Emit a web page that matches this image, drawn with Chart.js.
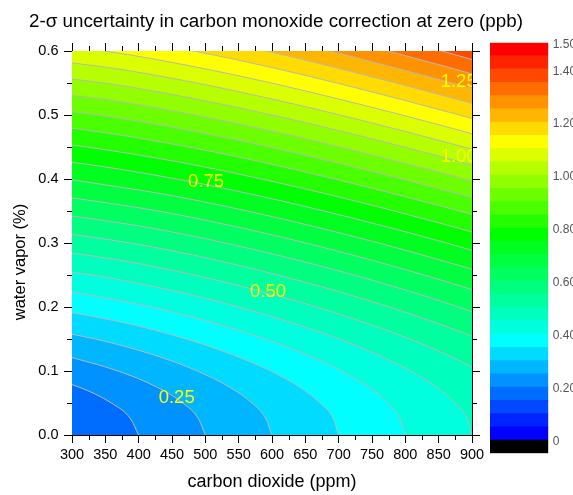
<!DOCTYPE html>
<html>
<head>
<meta charset="utf-8">
<script src="https://cdn.jsdelivr.net/npm/chart.js@4.4.1/dist/chart.umd.min.js"></script>
<style>
  body { margin: 0; background: #fff; }
  #wrap { position: relative; width: 573px; height: 495px; overflow: hidden; }
  #main { position: absolute; left: 0; top: 0; }
  #bar { position: absolute; left: 480px; top: 0; }
  #title { position: absolute; left: 29px; top: 10px; font: 18.8px "Liberation Sans", Arial, sans-serif; white-space: nowrap; color: #000; }
</style>
</head>
<body>
<div id="wrap">
  <canvas id="main" width="573" height="495"></canvas>
  <canvas id="bar" width="93" height="495"></canvas>
  <div id="title">2-σ uncertainty in carbon monoxide correction at zero (ppb)</div>
</div>
<script>
// contour levels (ppb) and the line of each level as [CO2 ppm, water vapour %]
const levels = [0.20, 0.25, 0.30, 0.35, 0.40, 0.45, 0.50, 0.55, 0.60, 0.65, 0.70, 0.75,
                0.80, 0.85, 0.90, 0.95, 1.00, 1.05, 1.10, 1.15, 1.20, 1.25, 1.30, 1.35];

const c020 = [[231,0.1],[310,0.075],[359,0.05],[388,0.025],[400,0],[960,0]];
const c025 = [[286,0.125],[369,0.1],[427,0.075],[466,0.05],[490,0.025],[500,0],[960,0]];
const c030 = [[202,0.175],[335,0.15],[423,0.125],[488,0.1],[536,0.075],[570,0.05],[591,0.025],[600,0],[960,0]];
const c035 = [[252,0.2],[380,0.175],[471,0.15],[542,0.125],[598,0.1],[641,0.075],[672,0.05],[692,0.025],[700,0],[960,0]];
const c040 = [[294,0.225],[419,0.2],[513,0.175],[590,0.15],[653,0.125],[704,0.1],[745,0.075],[774,0.05],[792,0.025],[800,0],[960,0]];
const c045 = [[120,0.275],[330,0.25],[454,0.225],[550,0.2],[631,0.175],[701,0.15],[759,0.125],[808,0.1],[847,0.075],[875,0.05],[893,0.025],[900,0],[960,0]];
const c050 = [[176,0.3],[361,0.275],[483,0.25],[582,0.225],[667,0.2],[741,0.175],[807,0.15],[863,0.125],[910,0.1],[976,0.05]];
const c055 = [[216,0.325],[388,0.3],[509,0.275],[609,0.25],[697,0.225],[776,0.2],[847,0.175],[910,0.15],[1011,0.1]];
const c060 = [[247,0.35],[410,0.325],[530,0.3],[632,0.275],[723,0.25],[805,0.225],[880,0.2],[1010,0.15]];
const c065 = [[272,0.375],[429,0.35],[548,0.325],[651,0.3],[743,0.275],[828,0.25],[907,0.225],[981,0.2]];
const c070 = [[292,0.4],[445,0.375],[563,0.35],[666,0.325],[760,0.3],[847,0.275],[929,0.25],[1079,0.2]];
const c075 = [[175,0.44],[309,0.425],[457,0.4],[575,0.375],[678,0.35],[773,0.325],[862,0.3],[1026,0.25]];
const c080 = [[245,0.46],[322,0.45],[468,0.425],[584,0.4],[688,0.375],[783,0.35],[873,0.325],[959,0.3]];
const c085 = [[211,0.49],[332,0.475],[475,0.45],[591,0.425],[694,0.4],[790,0.375],[881,0.35],[1052,0.3]];
const c090 = [[168,0.52],[340,0.5],[481,0.475],[596,0.45],[699,0.425],[795,0.4],[886,0.375],[974,0.35]];
const c095 = [[104,0.55],[345,0.525],[484,0.5],[599,0.475],[702,0.45],[797,0.425],[889,0.4],[1063,0.35]];
const c100 = [[116,0.575],[348,0.55],[486,0.525],[600,0.5],[703,0.475],[798,0.45],[889,0.425],[978,0.4]];
const c105 = [[121,0.6],[349,0.575],[487,0.55],[600,0.525],[702,0.5],[797,0.475],[888,0.45],[1063,0.4]];
const c110 = [[122,0.625],[349,0.6],[486,0.575],[599,0.55],[700,0.525],[795,0.5],[885,0.475],[974,0.45]];
const c115 = [[346,0.625],[483,0.6],[596,0.575],[697,0.55],[791,0.525],[881,0.5],[1056,0.45]];
const c120 = [[479,0.625],[592,0.6],[692,0.575],[786,0.55],[876,0.525],[963,0.5]];
const c125 = [[587,0.625],[687,0.6],[780,0.575],[870,0.55],[957,0.525]];
const c130 = [[681,0.625],[774,0.6],[863,0.575],[949,0.55]];
const c135 = [[766,0.625],[855,0.6],[940,0.575]];

const contours = [c020, c025, c030, c035, c040, c045, c050, c055, c060, c065, c070, c075,
                  c080, c085, c090, c095, c100, c105, c110, c115, c120, c125, c130, c135];

// in-plot labels
const labelText = ['0.25', '0.50', '0.75', '1.00', '1.25'];
const labelCo2 = [457, 594, 501, 880, 880];
const labelH2o = [0.058, 0.224, 0.396, 0.435, 0.552];

// colour scale: one band every 0.05 from 0 to 1.5, black under 0
const bandStep = 0.05;
const barTicks = [0, 0.2, 0.4, 0.6, 0.8, 1.0, 1.2, 1.4, 1.5];
const palette = [
  '#0000ff', '#0024ff', '#0049ff', '#006dff', '#0092ff', '#00b6ff', '#00dbff', '#00ffff',
  '#00ffdf', '#00ffbf', '#00ff9f', '#00ff80', '#00ff60', '#00ff40', '#00ff20', '#00ff00',
  '#24ff00', '#49ff00', '#6dff00', '#92ff00', '#b6ff00', '#dbff00', '#ffff00',
  '#ffdb00', '#ffb600', '#ff9200', '#ff6d00', '#ff4900', '#ff2400', '#ff0000'
];
const underColor = '#000000';

const FONT = '"Liberation Sans", Arial, sans-serif';
Chart.defaults.font.family = FONT;
Chart.defaults.color = '#000';

// lowest band fills the plot before the contour fills go on top
const baseFill = {
  id: 'baseFill',
  beforeDatasetsDraw(chart) {
    const a = chart.chartArea;
    const ctx = chart.ctx;
    ctx.save();
    ctx.fillStyle = palette[Math.round(levels[0] / bandStep) - 1];
    ctx.fillRect(a.left, a.top, a.right - a.left, a.bottom - a.top);
    ctx.restore();
  }
};

const contourLabels = {
  id: 'contourLabels',
  afterDatasetsDraw(chart) {
    const {ctx, chartArea: a, scales} = chart;
    ctx.save();
    ctx.beginPath();
    ctx.rect(a.left, a.top, a.right - a.left, a.bottom - a.top);
    ctx.clip();
    ctx.fillStyle = '#ffff00';
    ctx.font = '18.5px ' + FONT;
    ctx.textAlign = 'center';
    ctx.textBaseline = 'middle';
    labelText.forEach((t, i) => {
      ctx.fillText(t, scales.x.getPixelForValue(labelCo2[i]), scales.y.getPixelForValue(labelH2o[i]));
    });
    ctx.restore();
  }
};

// y axis title sits a little below the middle of the axis
const yTitle = {
  id: 'yTitle',
  afterDraw(chart) {
    const {ctx, chartArea: a} = chart;
    ctx.save();
    ctx.translate(20, (a.top + a.bottom) / 2 + 19);
    ctx.rotate(-Math.PI / 2);
    ctx.fillStyle = '#000';
    ctx.font = '16.5px ' + FONT;
    ctx.textAlign = 'center';
    ctx.textBaseline = 'middle';
    ctx.fillText('water vapor (%)', 0, 0);
    ctx.restore();
  }
};

// short ticks between the labelled ones, on all four sides
const minorTicks = {
  id: 'minorTicks',
  afterDraw(chart) {
    const {ctx, chartArea: a, scales: {x, y}} = chart;
    ctx.save();
    ctx.strokeStyle = '#000';
    ctx.lineWidth = 1;
    ctx.beginPath();
    for (let v = 325; v < 900; v += 50) {
      const px = Math.round(x.getPixelForValue(v)) + 0.5;
      ctx.moveTo(px, a.bottom); ctx.lineTo(px, a.bottom + 5);
      ctx.moveTo(px, a.top); ctx.lineTo(px, a.top - 5);
    }
    for (let v = 0.05; v < 0.6; v += 0.1) {
      const py = Math.round(y.getPixelForValue(v)) + 0.5;
      ctx.moveTo(a.left, py); ctx.lineTo(a.left - 5, py);
      ctx.moveTo(a.right, py); ctx.lineTo(a.right + 5, py);
    }
    ctx.stroke();
    ctx.restore();
  }
};

const toXY = pts => pts.map(p => ({x: p[0], y: p[1]}));

// filled regions (value >= level), higher levels on top
const fills = levels.map((lv, i) => ({
  label: 'fill ' + lv.toFixed(2),
  data: toXY(contours[i]),
  showLine: true,
  fill: 'end',
  backgroundColor: palette[Math.round(lv / bandStep)],
  borderColor: 'rgba(0,0,0,0)',
  pointRadius: 0,
  cubicInterpolationMode: 'monotone',
  clip: 0,
  order: levels.length - i + 1
}));

// contour lines, without the stretch that runs along the bottom axis
const lines = levels.map((lv, i) => ({
  label: lv.toFixed(2),
  data: toXY(contours[i].filter((p, j, arr) => p[1] > 0 || (j > 0 && arr[j - 1][1] > 0))),
  showLine: true,
  fill: false,
  borderColor: '#b8b8b8',
  borderWidth: 1,
  pointRadius: 0,
  cubicInterpolationMode: 'monotone',
  clip: 0,
  order: 0
}));

const axisGrid = {drawOnChartArea: false, color: '#000', tickLength: 8, tickWidth: 1};
const axisBorder = {color: '#000', width: 1};

new Chart(document.getElementById('main'), {
  type: 'scatter',
  data: {datasets: fills.concat(lines)},
  options: {
    responsive: false,
    animation: false,
    layout: {padding: {left: 0, top: 43, right: 93, bottom: 0}},
    plugins: {legend: {display: false}, tooltip: {enabled: false}},
    scales: {
      x: {
        type: 'linear', position: 'bottom', min: 300, max: 900,
        ticks: {stepSize: 50, padding: 3, maxRotation: 0, autoSkip: false, font: {size: 14.5}},
        grid: axisGrid, border: axisBorder,
        title: {display: true, text: 'carbon dioxide (ppm)', font: {size: 18}, padding: {top: 0, bottom: 2}},
        afterFit: s => { s.height = 60; }
      },
      x2: {
        type: 'linear', position: 'top', min: 300, max: 900,
        ticks: {stepSize: 50, display: false},
        grid: axisGrid, border: axisBorder,
        afterFit: s => { s.height = 8; }
      },
      y: {
        type: 'linear', position: 'left', min: 0, max: 0.6,
        ticks: {stepSize: 0.1, padding: 5.5, font: {size: 14.5}, callback: v => v.toFixed(1)},
        grid: axisGrid, border: axisBorder,
        afterFit: s => { s.width = 72; }
      },
      y2: {
        type: 'linear', position: 'right', min: 0, max: 0.6,
        ticks: {stepSize: 0.1, display: false},
        grid: axisGrid, border: axisBorder,
        afterFit: s => { s.width = 8; }
      }
    }
  },
  plugins: [baseFill, contourLabels, minorTicks, yTitle]
});

// colour bar
const barSets = [{data: [-bandStep], backgroundColor: underColor}]
  .concat(palette.map(c => ({data: [bandStep], backgroundColor: c})));

new Chart(document.getElementById('bar'), {
  type: 'bar',
  data: {labels: [''], datasets: barSets.map(d => Object.assign(d, {
    borderWidth: 0, barPercentage: 1, categoryPercentage: 1
  }))},
  options: {
    responsive: false,
    animation: false,
    layout: {padding: {left: 10, top: 42.7, right: 0, bottom: 41.7}},
    plugins: {legend: {display: false}, tooltip: {enabled: false}},
    scales: {
      x: {display: false, stacked: true},
      y: {
        stacked: true, position: 'right', min: -bandStep, max: 1.5,
        grid: {display: false, drawTicks: false, tickLength: 0}, border: {display: false},
        ticks: {color: '#555', font: {size: 12}, padding: 4.4, labelOffset: 2,
                callback: v => v === 0 ? '0' : v.toFixed(2)},
        afterBuildTicks: s => { s.ticks = barTicks.map(v => ({value: v})); },
        afterFit: s => { s.width = 24.7; }
      }
    }
  }
});
</script>
</body>
</html>
